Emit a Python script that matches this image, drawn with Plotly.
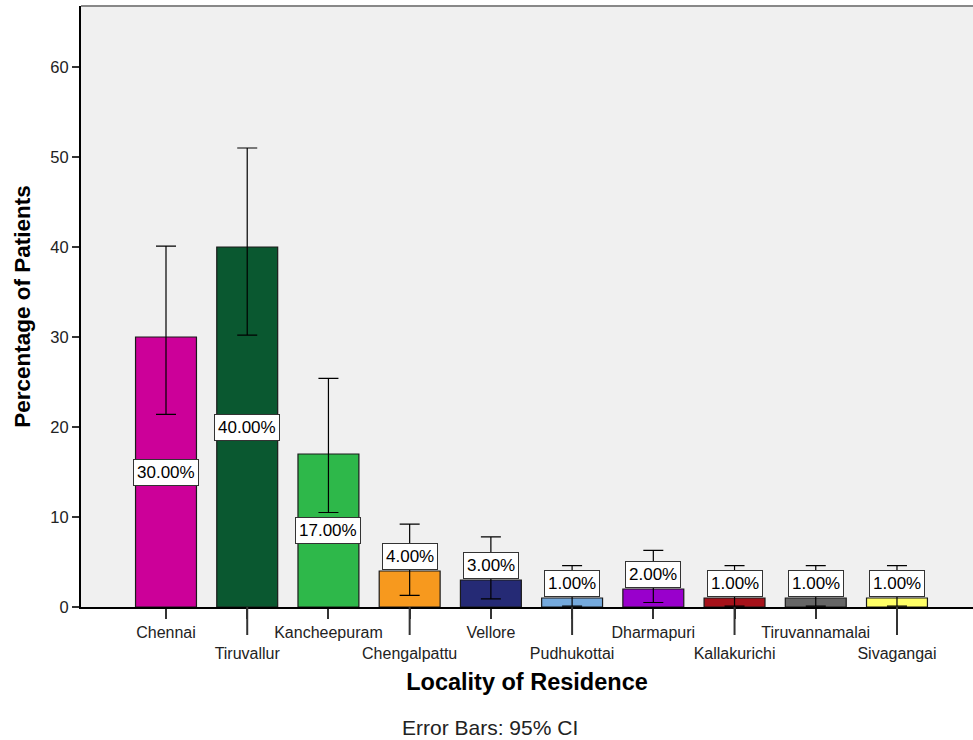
import plotly.graph_objects as go

categories = ["Chennai", "Tiruvallur", "Kancheepuram", "Chengalpattu", "Vellore",
              "Pudhukottai", "Dharmapuri", "Kallakurichi", "Tiruvannamalai", "Sivagangai"]
percent = [30, 40, 17, 4, 3, 1, 2, 1, 1, 1]
ci_upper = [40.1, 51.0, 25.4, 9.2, 7.8, 4.6, 6.3, 4.6, 4.6, 4.6]
ci_lower = [21.4, 30.2, 10.5, 1.3, 0.9, 0.1, 0.5, 0.1, 0.1, 0.1]
colors = ["#CC0099", "#0A5830", "#2EB84A", "#F7991E", "#252A75",
          "#74A9DC", "#9900CC", "#A6121A", "#666666", "#FFFF66"]
y_ticks = [0, 10, 20, 30, 40, 50, 60]

FONT = "Liberation Sans, Arial, sans-serif"
W, H = 973, 740
ML, MR, MT, MB = 81, 0, 6, 133
plot_h = H - MT - MB

xs = list(range(len(categories)))
err_plus = [u - v for u, v in zip(ci_upper, percent)]
err_minus = [v - l for v, l in zip(percent, ci_lower)]

fig = go.Figure()
fig.add_trace(go.Bar(
    x=xs, y=percent, width=0.75,
    marker=dict(color=colors, line=dict(color="#1A1A1A", width=1.2)),
    error_y=dict(type="data", symmetric=False, array=err_plus, arrayminus=err_minus,
                 color="#000000", thickness=1.2, width=10),
    hoverinfo="skip", showlegend=False,
))

annotations = []
for i, v in enumerate(percent):
    big = v >= 10
    annotations.append(dict(
        x=i, y=v / 2 if big else v, xref="x", yref="y",
        text=f"{v:.2f}%", showarrow=False,
        yanchor="middle" if big else "bottom", yshift=0 if big else 1,
        font=dict(family=FONT, size=17, color="#000000"),
        bgcolor="#FFFFFF", bordercolor="#333333", borderwidth=1, borderpad=3,
    ))
annotations.append(dict(
    x=(490 - ML) / (W - ML - MR), y=-(727 - (H - MB)) / plot_h,
    xref="paper", yref="paper", text="Error Bars: 95% CI", showarrow=False,
    xanchor="center", yanchor="middle",
    font=dict(family=FONT, size=21, color="#222222"),
))

shapes = []
long_tick = 28 / plot_h
for i in xs:
    if i % 2 == 1:
        shapes.append(dict(type="line", xref="x", yref="paper", x0=i, x1=i,
                           y0=0, y1=-long_tick, line=dict(color="#333333", width=2)))
shapes.append(dict(type="line", xref="paper", yref="paper", x0=0, x1=1, y0=1, y1=1,
                   line=dict(color="#888888", width=2)))

ticktext = [c if i % 2 == 0 else "<br>" + c for i, c in enumerate(categories)]

spacing = 81.22
x_lo = -(166 - ML) / spacing
x_hi = x_lo + (W - ML - MR) / spacing

fig.update_layout(
    width=W, height=H,
    margin=dict(l=ML, r=MR, t=MT, b=MB, pad=0),
    paper_bgcolor="#FFFFFF", plot_bgcolor="#F0F0F0",
    font=dict(family=FONT, size=16, color="#222222"),
    annotations=annotations, shapes=shapes,
    xaxis=dict(
        range=[x_lo, x_hi], tickmode="array", tickvals=xs, ticktext=ticktext,
        tickangle=0, automargin=False,
        ticks="outside", ticklen=10, tickwidth=2, tickcolor="#333333",
        showline=True, linecolor="#000000", linewidth=1.5, showgrid=False, zeroline=False,
        tickfont=dict(family=FONT, size=16, color="#222222"),
        title=dict(text="<b>Locality of Residence</b>", standoff=13,
                   font=dict(family=FONT, size=23.5, color="#000000")),
    ),
    yaxis=dict(
        range=[0, (H - MB - MT) / 9.0], tickmode="array", tickvals=y_ticks,
        automargin=False,
        ticks="outside", ticklen=7, tickwidth=1.5, tickcolor="#333333",
        showline=True, linecolor="#000000", linewidth=2, showgrid=False, zeroline=False,
        tickfont=dict(family=FONT, size=16.5, color="#222222"),
        title=dict(text="<b>Percentage of Patients</b>", standoff=13,
                   font=dict(family=FONT, size=22.5, color="#000000")),
    ),
)

fig.write_html("out.html", config={"displayModeBar": False},
               post_script="document.body.style.margin='0px';")
